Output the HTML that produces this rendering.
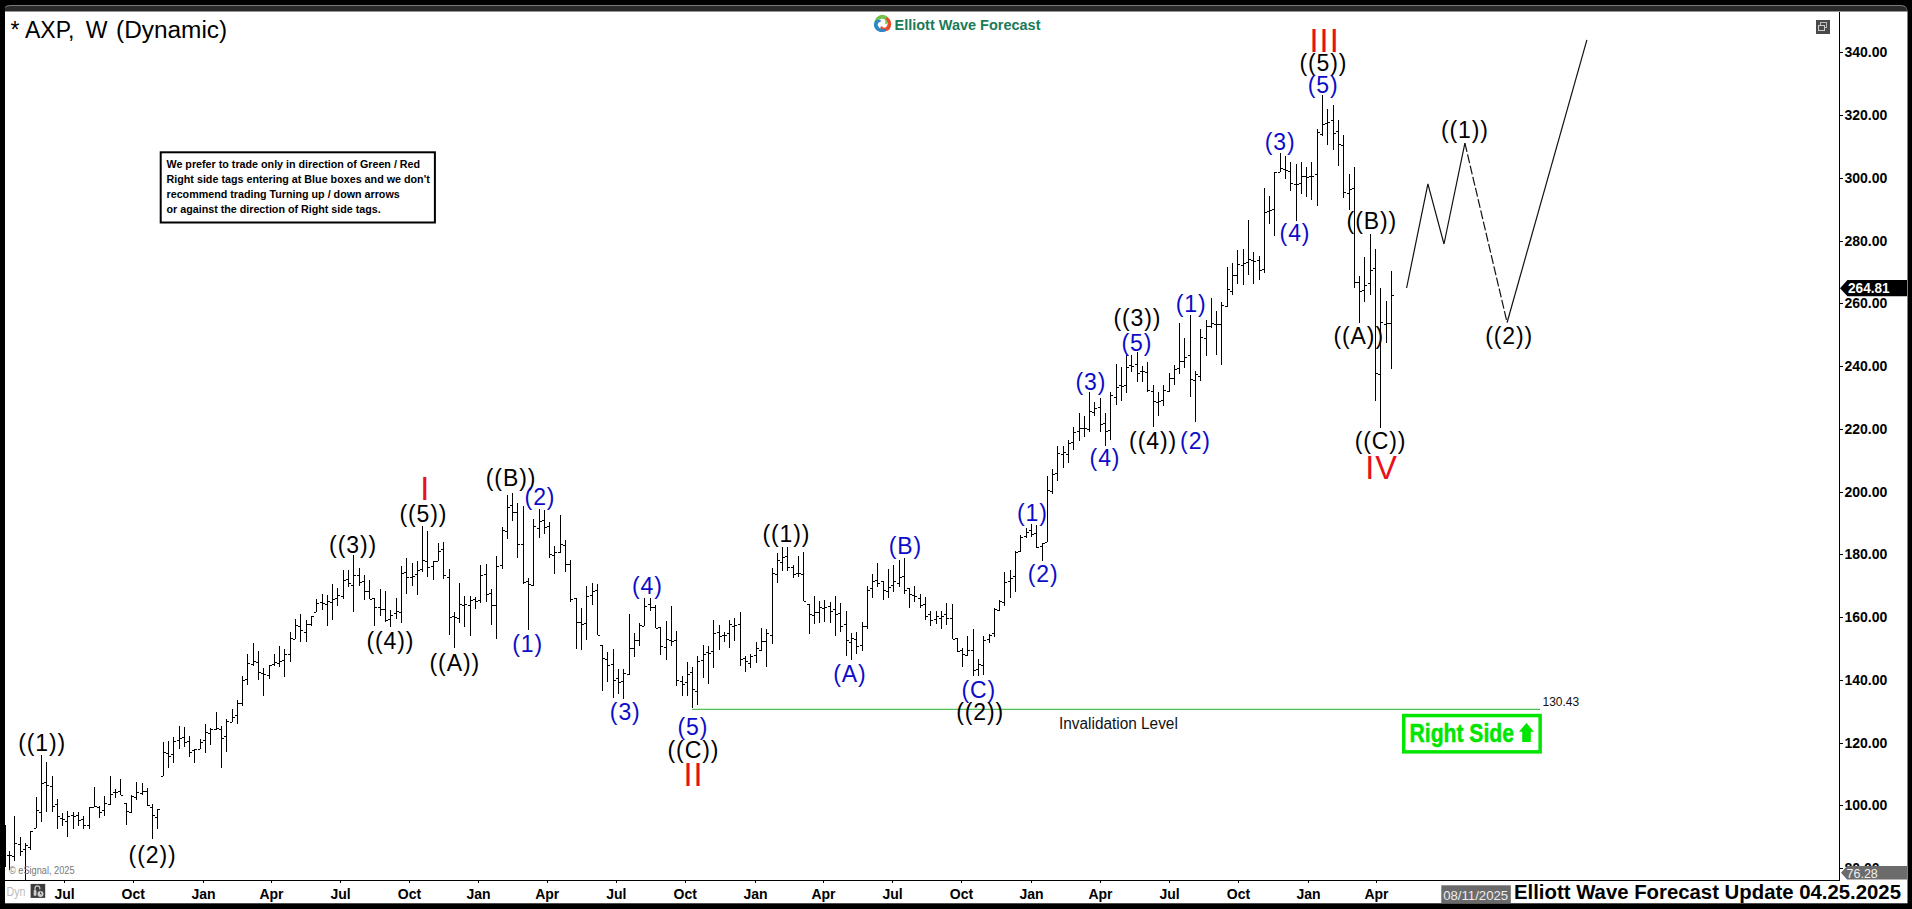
<!DOCTYPE html>
<html><head><meta charset="utf-8"><title>AXP Weekly Elliott Wave</title>
<style>html,body{margin:0;padding:0;background:#000;width:1912px;height:909px;overflow:hidden;position:relative;font-family:"Liberation Sans", sans-serif;}</style>
</head><body>
<svg width="1912" height="909" viewBox="0 0 1912 909" style="position:absolute;left:0;top:0"><rect x="0" y="0" width="1912" height="909" fill="#000"/><path d="M5,12 V7.5 Q5,5 11,5 H1901 Q1907.5,5 1907.5,12 Z" fill="#7a7a7a"/><path d="M5,12 V8.5 Q5,6 11,6 H1901 Q1907,6 1907,12 Z" fill="#2a2a2a"/><rect x="5" y="11.5" width="1902.5" height="891.8" fill="#fff"/><g stroke="#000" stroke-width="1" shape-rendering="crispEdges" fill="none"><path d="M5.5,825V867M9.5,851V870M7.0,855.5H9.0M10.0,855.5H12.0M14.5,816V861M12.0,856.5H14.0M15.0,843.5H17.0M20.5,837V856M18.0,844.5H20.0M21.0,851.5H23.0M25.5,843V880M23.0,849.5H25.0M26.0,845.5H28.0M30.5,831V850M28.0,847.5H30.0M31.0,831.5H33.0M36.5,797V828M34.0,828.5H36.0M37.0,810.5H39.0M41.5,755V822M39.0,812.5H41.0M42.0,783.5H44.0M46.5,762V812M44.0,782.5H46.0M47.0,785.5H49.0M52.5,776V812M50.0,786.5H52.0M53.0,806.5H55.0M57.5,799V829M55.0,804.5H57.0M58.0,816.5H60.0M62.5,813V826M60.0,818.5H62.0M63.0,819.5H65.0M67.5,811V837M65.0,821.5H67.0M68.0,816.5H70.0M73.5,812V829M71.0,815.5H73.0M74.0,816.5H76.0M78.5,812V826M76.0,815.5H78.0M79.0,820.5H81.0M83.5,816V829M81.0,819.5H83.0M84.0,825.5H86.0M89.5,807V829M87.0,825.5H89.0M90.0,807.5H92.0M94.5,787V807M92.0,807.5H94.0M95.0,806.5H97.0M99.5,806V818M97.0,807.5H99.0M100.0,812.5H102.0M104.5,796V816M102.0,810.5H104.0M105.0,803.5H107.0M110.5,776V805M108.0,804.5H110.0M111.0,794.5H113.0M115.5,789V798M113.0,792.5H115.0M116.0,792.5H118.0M120.5,779V795M118.0,791.5H120.0M121.0,795.5H123.0M126.5,803V825M124.0,803.5H126.0M127.0,811.5H129.0M131.5,795V813M129.0,812.5H131.0M132.0,796.5H134.0M136.5,782V800M134.0,797.5H136.0M137.0,792.5H139.0M142.5,783V795M140.0,793.5H142.0M143.0,791.5H145.0M147.5,788V806M145.0,791.5H147.0M148.0,805.5H150.0M152.5,804V839M150.0,807.5H152.0M153.0,815.5H155.0M157.5,809V829M155.0,817.5H157.0M158.0,809.5H160.0M163.5,742V776M161.0,776.5H163.0M164.0,752.5H166.0M168.5,741V768M166.0,753.5H168.0M169.0,756.5H171.0M173.5,737V763M171.0,754.5H173.0M174.0,741.5H176.0M179.5,726V749M177.0,740.5H179.0M180.0,738.5H182.0M184.5,727V747M182.0,737.5H184.0M185.0,742.5H187.0M189.5,736V757M187.0,741.5H189.0M190.0,752.5H192.0M194.5,749V763M192.0,750.5H194.0M195.0,749.5H197.0M200.5,739V749M198.0,749.5H200.0M201.0,742.5H203.0M205.5,724V753M203.0,740.5H205.0M206.0,732.5H208.0M210.5,728V745M208.0,733.5H210.0M211.0,729.5H213.0M216.5,712V730M214.0,729.5H216.0M217.0,728.5H219.0M221.5,726V768M219.0,729.5H221.0M222.0,738.5H224.0M226.5,719V752M224.0,736.5H226.0M227.0,721.5H229.0M232.5,709V722M230.0,722.5H232.0M233.0,717.5H235.0M237.5,700V724M235.0,715.5H237.0M238.0,703.5H240.0M242.5,676V706M240.0,703.5H242.0M243.0,680.5H245.0M247.5,654V685M245.0,679.5H247.0M248.0,663.5H250.0M253.5,643V666M251.0,664.5H253.0M254.0,661.5H256.0M258.5,651V680M256.0,662.5H258.0M259.0,672.5H261.0M263.5,668V696M261.0,673.5H263.0M264.0,674.5H266.0M269.5,665V679M267.0,675.5H269.0M270.0,665.5H272.0M274.5,654V666M272.0,664.5H274.0M275.0,662.5H277.0M279.5,646V667M277.0,663.5H279.0M280.0,661.5H282.0M284.5,649V677M282.0,660.5H284.0M285.0,654.5H287.0M290.5,632V662M288.0,654.5H290.0M291.0,638.5H293.0M295.5,619V639M293.0,639.5H295.0M296.0,625.5H298.0M300.5,614V642M298.0,626.5H300.0M301.0,630.5H303.0M306.5,620V642M304.0,632.5H306.0M307.0,624.5H309.0M311.5,616V626M309.0,624.5H311.0M312.0,616.5H314.0M316.5,599V612M314.0,612.5H316.0M317.0,603.5H319.0M322.5,594V610M320.0,602.5H322.0M323.0,603.5H325.0M327.5,595V626M325.0,604.5H327.0M328.0,601.5H330.0M332.5,584V620M330.0,602.5H332.0M333.0,599.5H335.0M337.5,588V606M335.0,598.5H337.0M338.0,595.5H340.0M343.5,570V599M341.0,596.5H343.0M344.0,580.5H346.0M348.5,570V587M346.0,579.5H348.0M349.0,583.5H351.0M353.5,555V612M351.0,585.5H353.0M354.0,575.5H356.0M359.5,568V586M357.0,575.5H359.0M360.0,582.5H362.0M364.5,575V600M362.0,581.5H364.0M365.0,591.5H367.0M369.5,580V599M367.0,591.5H369.0M370.0,599.5H372.0M374.5,598V626M372.0,598.5H374.0M375.0,607.5H377.0M380.5,589V616M378.0,607.5H380.0M381.0,609.5H383.0M385.5,591V622M383.0,609.5H385.0M386.0,620.5H388.0M390.5,610V627M388.0,619.5H390.0M391.0,615.5H393.0M396.5,598V619M394.0,613.5H396.0M397.0,611.5H399.0M401.5,566V623M399.0,612.5H401.0M402.0,573.5H404.0M406.5,558V594M404.0,572.5H406.0M407.0,577.5H409.0M412.5,563V586M410.0,577.5H412.0M413.0,576.5H415.0M417.5,561V595M415.0,574.5H417.0M418.0,570.5H420.0M422.5,526V572M420.0,569.5H422.0M423.0,560.5H425.0M427.5,531V577M425.0,561.5H427.0M428.0,567.5H430.0M433.5,561V580M431.0,566.5H433.0M434.0,561.5H436.0M438.5,543V561M436.0,561.5H438.0M439.0,551.5H441.0M443.5,542V579M441.0,549.5H443.0M444.0,575.5H446.0M449.5,569V635M447.0,577.5H449.0M450.0,617.5H452.0M454.5,612V648M452.0,616.5H454.0M455.0,617.5H457.0M459.5,583V623M457.0,618.5H459.0M460.0,604.5H462.0M464.5,596V627M462.0,605.5H464.0M465.0,604.5H467.0M470.5,596V636M468.0,605.5H470.0M471.0,600.5H473.0M475.5,597V609M473.0,599.5H475.0M476.0,601.5H478.0M480.5,565V603M478.0,600.5H480.0M481.0,575.5H483.0M486.5,564V602M484.0,574.5H486.0M487.0,594.5H489.0M491.5,589V625M489.0,593.5H491.0M492.0,605.5H494.0M496.5,556V639M494.0,605.5H496.0M497.0,566.5H499.0M502.5,527V569M500.0,565.5H502.0M503.0,530.5H505.0M507.5,495V539M505.0,531.5H507.0M508.0,507.5H510.0M512.5,493V521M510.0,505.5H512.0M513.0,512.5H515.0M517.5,503V558M515.0,512.5H517.0M518.0,544.5H520.0M523.5,506V584M521.0,544.5H523.0M524.0,582.5H526.0M528.5,578V630M526.0,581.5H528.0M529.0,584.5H531.0M533.5,519V586M531.0,585.5H533.0M534.0,526.5H536.0M539.5,509V538M537.0,528.5H539.0M540.0,521.5H542.0M544.5,510V534M542.0,520.5H544.0M545.0,527.5H547.0M549.5,522V558M547.0,526.5H549.0M550.0,554.5H552.0M554.5,546V574M552.0,555.5H554.0M555.0,552.5H557.0M560.5,515V553M558.0,552.5H560.0M561.0,544.5H563.0M565.5,540V572M563.0,545.5H565.0M566.0,564.5H568.0M570.5,560V602M568.0,564.5H570.0M571.0,599.5H573.0M576.5,598V649M574.0,598.5H576.0M577.0,622.5H579.0M581.5,608V650M579.0,622.5H581.0M582.0,624.5H584.0M586.5,586V640M584.0,623.5H586.0M587.0,596.5H589.0M592.5,583V605M590.0,595.5H592.0M593.0,591.5H595.0M597.5,584V635M595.0,590.5H597.0M598.0,635.5H600.0M602.5,645V691M600.0,645.5H602.0M603.0,658.5H605.0M607.5,652V682M605.0,659.5H607.0M608.0,665.5H610.0M613.5,649V698M611.0,664.5H613.0M614.0,680.5H616.0M618.5,669V694M616.0,678.5H618.0M619.0,682.5H621.0M623.5,669V699M621.0,681.5H623.0M624.0,673.5H626.0M629.5,614V675M627.0,674.5H629.0M630.0,648.5H632.0M634.5,633V657M632.0,648.5H634.0M635.0,640.5H637.0M639.5,623V646M637.0,640.5H639.0M640.0,625.5H642.0M644.5,598V626M642.0,626.5H644.0M645.0,606.5H647.0M650.5,598V611M648.0,604.5H650.0M651.0,607.5H653.0M655.5,605V628M653.0,607.5H655.0M656.0,628.5H658.0M660.5,627V655M658.0,627.5H660.0M661.0,646.5H663.0M666.5,621V660M664.0,647.5H666.0M667.0,639.5H669.0M671.5,606V646M669.0,640.5H671.0M672.0,641.5H674.0M676.5,631V686M674.0,640.5H676.0M677.0,680.5H679.0M682.5,676V696M680.0,681.5H682.0M683.0,684.5H685.0M687.5,662V696M685.0,682.5H687.0M688.0,674.5H690.0M692.5,667V709M690.0,672.5H692.0M693.0,689.5H695.0M697.5,656V705M695.0,691.5H697.0M698.0,661.5H700.0M703.5,645V678M701.0,660.5H703.0M704.0,654.5H706.0M708.5,646V684M706.0,652.5H708.0M709.0,653.5H711.0M713.5,620V668M711.0,651.5H713.0M714.0,633.5H716.0M719.5,625V650M717.0,632.5H719.0M720.0,636.5H722.0M724.5,632V642M722.0,635.5H724.0M725.0,635.5H727.0M729.5,620V648M727.0,633.5H729.0M730.0,624.5H732.0M734.5,618V641M732.0,626.5H734.0M735.0,625.5H737.0M740.5,612V666M738.0,624.5H740.0M741.0,659.5H743.0M745.5,656V672M743.0,658.5H745.0M746.0,661.5H748.0M750.5,654V668M748.0,663.5H750.0M751.0,656.5H753.0M756.5,642V663M754.0,655.5H756.0M757.0,648.5H759.0M761.5,628V651M759.0,650.5H761.0M762.0,641.5H764.0M766.5,629V667M764.0,641.5H766.0M767.0,633.5H769.0M772.5,568V644M770.0,635.5H772.0M773.0,573.5H775.0M777.5,553V583M775.0,574.5H777.0M778.0,560.5H780.0M782.5,547V571M780.0,562.5H782.0M783.0,557.5H785.0M787.5,547V571M785.0,556.5H787.0M788.0,567.5H790.0M793.5,565V578M791.0,567.5H793.0M794.0,574.5H796.0M798.5,556V577M796.0,573.5H798.0M799.0,573.5H801.0M803.5,552V601M801.0,574.5H803.0M804.0,601.5H806.0M809.5,604V634M807.0,604.5H809.0M810.0,614.5H812.0M814.5,596V624M812.0,615.5H814.0M815.0,612.5H817.0M819.5,601V623M817.0,612.5H819.0M820.0,607.5H822.0M824.5,600V622M822.0,608.5H824.0M825.0,607.5H827.0M830.5,602V623M828.0,606.5H830.0M831.0,611.5H833.0M835.5,596V636M833.0,609.5H835.0M836.0,614.5H838.0M840.5,603V632M838.0,613.5H840.0M841.0,626.5H843.0M846.5,611V656M844.0,624.5H846.0M847.0,640.5H849.0M851.5,633V660M849.0,642.5H851.0M852.0,638.5H854.0M856.5,632V654M854.0,639.5H856.0M857.0,646.5H859.0M862.5,622V651M860.0,645.5H862.0M863.0,626.5H865.0M867.5,586V629M865.0,626.5H867.0M868.0,590.5H870.0M872.5,574V598M870.0,588.5H872.0M873.0,581.5H875.0M877.5,563V587M875.0,580.5H877.0M878.0,583.5H880.0M883.5,581V600M881.0,581.5H883.0M884.0,590.5H886.0M888.5,569V598M886.0,591.5H888.0M889.0,587.5H891.0M893.5,565V592M891.0,585.5H893.0M894.0,581.5H896.0M899.5,560V587M897.0,583.5H899.0M900.0,577.5H902.0M904.5,558V594M902.0,576.5H904.0M905.0,590.5H907.0M909.5,588V608M907.0,588.5H909.0M910.0,594.5H912.0M914.5,586V602M912.0,595.5H914.0M915.0,596.5H917.0M920.5,594V608M918.0,598.5H920.0M921.0,605.5H923.0M925.5,597V620M923.0,604.5H925.0M926.0,616.5H928.0M930.5,611V626M928.0,614.5H930.0M931.0,620.5H933.0M936.5,611V624M934.0,619.5H936.0M937.0,616.5H939.0M941.5,611V629M939.0,618.5H941.0M942.0,616.5H944.0M946.5,603V625M944.0,614.5H946.0M947.0,618.5H949.0M952.5,604V639M950.0,618.5H952.0M953.0,639.5H955.0M957.5,638V652M955.0,638.5H957.0M958.0,651.5H960.0M962.5,648V667M960.0,650.5H962.0M963.0,654.5H965.0M967.5,636V656M965.0,655.5H967.0M968.0,650.5H970.0M973.5,629V676M971.0,650.5H973.0M974.0,670.5H976.0M978.5,659V676M976.0,669.5H978.0M979.0,664.5H981.0M983.5,636V675M981.0,665.5H983.0M984.0,640.5H986.0M989.5,634V643M987.0,639.5H989.0M990.0,635.5H992.0M994.5,608V637M992.0,633.5H994.0M995.0,609.5H997.0M999.5,600V611M997.0,610.5H999.0M1000.0,601.5H1002.0M1004.5,572V606M1002.0,602.5H1004.0M1005.0,582.5H1007.0M1010.5,570V598M1008.0,581.5H1010.0M1011.0,578.5H1013.0M1015.5,551V592M1013.0,576.5H1015.0M1016.0,552.5H1018.0M1020.5,535V552M1018.0,551.5H1020.0M1021.0,537.5H1023.0M1026.5,528V538M1024.0,536.5H1026.0M1027.0,532.5H1029.0M1031.5,524V537M1029.0,530.5H1031.0M1032.0,534.5H1034.0M1036.5,525V548M1034.0,533.5H1036.0M1037.0,547.5H1039.0M1042.5,543V561M1040.0,546.5H1042.0M1043.0,543.5H1045.0M1047.5,476V542M1045.0,542.5H1047.0M1048.0,490.5H1050.0M1052.5,469V494M1050.0,491.5H1052.0M1053.0,474.5H1055.0M1057.5,446V481M1055.0,473.5H1057.0M1058.0,453.5H1060.0M1063.5,446V468M1061.0,454.5H1063.0M1064.0,452.5H1066.0M1068.5,440V463M1066.0,454.5H1068.0M1069.0,443.5H1071.0M1073.5,427V450M1071.0,442.5H1073.0M1074.0,432.5H1076.0M1079.5,413V441M1077.0,431.5H1079.0M1080.0,428.5H1082.0M1084.5,416V437M1082.0,428.5H1084.0M1085.0,428.5H1087.0M1089.5,392V432M1087.0,429.5H1089.0M1090.0,411.5H1092.0M1094.5,402V416M1092.0,412.5H1094.0M1095.0,408.5H1097.0M1100.5,398V432M1098.0,407.5H1100.0M1101.0,424.5H1103.0M1105.5,413V446M1103.0,423.5H1105.0M1106.0,431.5H1108.0M1110.5,392V440M1108.0,430.5H1110.0M1111.0,395.5H1113.0M1116.5,364V405M1114.0,397.5H1116.0M1117.0,387.5H1119.0M1121.5,367V401M1119.0,385.5H1121.0M1122.0,386.5H1124.0M1126.5,355V393M1124.0,385.5H1126.0M1127.0,367.5H1129.0M1131.5,355V372M1129.0,365.5H1131.0M1132.0,366.5H1134.0M1137.5,352V382M1135.0,364.5H1137.0M1138.0,373.5H1140.0M1142.5,366V382M1140.0,371.5H1142.0M1143.0,371.5H1145.0M1147.5,362V392M1145.0,372.5H1147.0M1148.0,390.5H1150.0M1153.5,385V427M1151.0,391.5H1153.0M1154.0,401.5H1156.0M1158.5,392V416M1156.0,402.5H1158.0M1159.0,401.5H1161.0M1163.5,385V406M1161.0,400.5H1163.0M1164.0,390.5H1166.0M1169.5,373V392M1167.0,391.5H1169.0M1170.0,378.5H1172.0M1174.5,365V385M1172.0,378.5H1174.0M1175.0,369.5H1177.0M1179.5,323V374M1177.0,368.5H1179.0M1180.0,361.5H1182.0M1184.5,338V368M1182.0,361.5H1184.0M1185.0,357.5H1187.0M1190.5,315V397M1188.0,355.5H1190.0M1191.0,379.5H1193.0M1195.5,371V422M1193.0,380.5H1195.0M1196.0,374.5H1198.0M1200.5,329V381M1198.0,376.5H1200.0M1201.0,337.5H1203.0M1206.5,320V356M1204.0,338.5H1206.0M1207.0,326.5H1209.0M1211.5,298V328M1209.0,326.5H1211.0M1212.0,323.5H1214.0M1216.5,311V355M1214.0,324.5H1216.0M1217.0,324.5H1219.0M1221.5,302V365M1219.0,324.5H1221.0M1222.0,305.5H1224.0M1227.5,267V307M1225.0,306.5H1227.0M1228.0,289.5H1230.0M1232.5,263V295M1230.0,291.5H1232.0M1233.0,275.5H1235.0M1237.5,250V284M1235.0,275.5H1237.0M1238.0,264.5H1240.0M1243.5,249V285M1241.0,265.5H1243.0M1244.0,263.5H1246.0M1248.5,220V275M1246.0,262.5H1248.0M1249.0,259.5H1251.0M1253.5,252V284M1251.0,260.5H1253.0M1254.0,261.5H1256.0M1259.5,256V280M1257.0,260.5H1259.0M1260.0,270.5H1262.0M1264.5,188V273M1262.0,269.5H1264.0M1265.0,212.5H1267.0M1269.5,196V224M1267.0,211.5H1269.0M1270.0,210.5H1272.0M1274.5,172V236M1272.0,209.5H1274.0M1275.0,172.5H1277.0M1280.5,153V172M1278.0,172.5H1280.0M1281.0,168.5H1283.0M1285.5,156V179M1283.0,169.5H1285.0M1286.0,170.5H1288.0M1290.5,162V191M1288.0,171.5H1290.0M1291.0,183.5H1293.0M1296.5,164V221M1294.0,184.5H1296.0M1297.0,184.5H1299.0M1301.5,162V194M1299.0,183.5H1301.0M1302.0,176.5H1304.0M1306.5,167V197M1304.0,176.5H1306.0M1307.0,177.5H1309.0M1311.5,162V200M1309.0,176.5H1311.0M1312.0,176.5H1314.0M1317.5,129V206M1315.0,174.5H1317.0M1318.0,132.5H1320.0M1322.5,95V136M1320.0,134.5H1322.0M1323.0,124.5H1325.0M1327.5,109V145M1325.0,123.5H1327.0M1328.0,122.5H1330.0M1333.5,105V150M1331.0,120.5H1333.0M1334.0,133.5H1336.0M1338.5,120V166M1336.0,131.5H1338.0M1339.0,144.5H1341.0M1343.5,135V198M1341.0,145.5H1343.0M1344.0,192.5H1346.0M1349.5,174V210M1347.0,193.5H1349.0M1350.0,189.5H1352.0M1354.5,167V288M1352.0,188.5H1354.0M1355.0,282.5H1357.0M1359.5,276V323M1357.0,282.5H1359.0M1360.0,291.5H1362.0M1364.5,257V302M1362.0,290.5H1364.0M1365.0,285.5H1367.0M1370.5,234V295M1368.0,283.5H1370.0M1371.0,270.5H1373.0M1375.5,249V401M1373.0,268.5H1375.0M1376.0,373.5H1378.0M1380.5,288V428M1378.0,374.5H1380.0M1381.0,322.5H1383.0M1386.5,301V343M1384.0,324.5H1386.0M1387.0,323.5H1389.0M1391.5,271V369M1389.0,323.5H1391.0M1392.0,295.5H1394.0"/></g><g shape-rendering="crispEdges"><rect x="1839" y="11.5" width="1" height="869" fill="#000"/><rect x="4.5" y="880" width="1835" height="1" fill="#000"/></g><rect x="1840" y="51.5" width="3" height="1" fill="#000" shape-rendering="crispEdges"/><text x="1844.5" y="57.3" font-family='"Liberation Sans", sans-serif' font-size="14" font-weight="bold" fill="#000">340.00</text><rect x="1840" y="114.5" width="3" height="1" fill="#000" shape-rendering="crispEdges"/><text x="1844.5" y="120.0" font-family='"Liberation Sans", sans-serif' font-size="14" font-weight="bold" fill="#000">320.00</text><rect x="1840" y="177.5" width="3" height="1" fill="#000" shape-rendering="crispEdges"/><text x="1844.5" y="182.8" font-family='"Liberation Sans", sans-serif' font-size="14" font-weight="bold" fill="#000">300.00</text><rect x="1840" y="240.5" width="3" height="1" fill="#000" shape-rendering="crispEdges"/><text x="1844.5" y="245.6" font-family='"Liberation Sans", sans-serif' font-size="14" font-weight="bold" fill="#000">280.00</text><rect x="1840" y="302.5" width="3" height="1" fill="#000" shape-rendering="crispEdges"/><text x="1844.5" y="308.3" font-family='"Liberation Sans", sans-serif' font-size="14" font-weight="bold" fill="#000">260.00</text><rect x="1840" y="365.5" width="3" height="1" fill="#000" shape-rendering="crispEdges"/><text x="1844.5" y="371.1" font-family='"Liberation Sans", sans-serif' font-size="14" font-weight="bold" fill="#000">240.00</text><rect x="1840" y="428.5" width="3" height="1" fill="#000" shape-rendering="crispEdges"/><text x="1844.5" y="433.8" font-family='"Liberation Sans", sans-serif' font-size="14" font-weight="bold" fill="#000">220.00</text><rect x="1840" y="491.5" width="3" height="1" fill="#000" shape-rendering="crispEdges"/><text x="1844.5" y="496.6" font-family='"Liberation Sans", sans-serif' font-size="14" font-weight="bold" fill="#000">200.00</text><rect x="1840" y="553.5" width="3" height="1" fill="#000" shape-rendering="crispEdges"/><text x="1844.5" y="559.3" font-family='"Liberation Sans", sans-serif' font-size="14" font-weight="bold" fill="#000">180.00</text><rect x="1840" y="616.5" width="3" height="1" fill="#000" shape-rendering="crispEdges"/><text x="1844.5" y="622.0" font-family='"Liberation Sans", sans-serif' font-size="14" font-weight="bold" fill="#000">160.00</text><rect x="1840" y="679.5" width="3" height="1" fill="#000" shape-rendering="crispEdges"/><text x="1844.5" y="684.8" font-family='"Liberation Sans", sans-serif' font-size="14" font-weight="bold" fill="#000">140.00</text><rect x="1840" y="742.5" width="3" height="1" fill="#000" shape-rendering="crispEdges"/><text x="1844.5" y="747.5" font-family='"Liberation Sans", sans-serif' font-size="14" font-weight="bold" fill="#000">120.00</text><rect x="1840" y="804.5" width="3" height="1" fill="#000" shape-rendering="crispEdges"/><text x="1844.5" y="810.3" font-family='"Liberation Sans", sans-serif' font-size="14" font-weight="bold" fill="#000">100.00</text><rect x="1840" y="867.5" width="3" height="1" fill="#000" shape-rendering="crispEdges"/><text x="1844.5" y="873.0" font-family='"Liberation Sans", sans-serif' font-size="14" font-weight="bold" fill="#000">80.00</text><rect x="64" y="881" width="1" height="2" fill="#000" shape-rendering="crispEdges"/><text x="64.5" y="899" text-anchor="middle" font-family='"Liberation Sans", sans-serif' font-size="14" font-weight="bold" fill="#000">Jul</text><rect x="133" y="881" width="1" height="2" fill="#000" shape-rendering="crispEdges"/><text x="133.25" y="899" text-anchor="middle" font-family='"Liberation Sans", sans-serif' font-size="14" font-weight="bold" fill="#000">Oct</text><rect x="203" y="881" width="1" height="2" fill="#000" shape-rendering="crispEdges"/><text x="203.5" y="899" text-anchor="middle" font-family='"Liberation Sans", sans-serif' font-size="14" font-weight="bold" fill="#000">Jan</text><rect x="271" y="881" width="1" height="2" fill="#000" shape-rendering="crispEdges"/><text x="271.5" y="899" text-anchor="middle" font-family='"Liberation Sans", sans-serif' font-size="14" font-weight="bold" fill="#000">Apr</text><rect x="340" y="881" width="1" height="2" fill="#000" shape-rendering="crispEdges"/><text x="340.5" y="899" text-anchor="middle" font-family='"Liberation Sans", sans-serif' font-size="14" font-weight="bold" fill="#000">Jul</text><rect x="409" y="881" width="1" height="2" fill="#000" shape-rendering="crispEdges"/><text x="409.5" y="899" text-anchor="middle" font-family='"Liberation Sans", sans-serif' font-size="14" font-weight="bold" fill="#000">Oct</text><rect x="478" y="881" width="1" height="2" fill="#000" shape-rendering="crispEdges"/><text x="478.5" y="899" text-anchor="middle" font-family='"Liberation Sans", sans-serif' font-size="14" font-weight="bold" fill="#000">Jan</text><rect x="547" y="881" width="1" height="2" fill="#000" shape-rendering="crispEdges"/><text x="547.25" y="899" text-anchor="middle" font-family='"Liberation Sans", sans-serif' font-size="14" font-weight="bold" fill="#000">Apr</text><rect x="616" y="881" width="1" height="2" fill="#000" shape-rendering="crispEdges"/><text x="616.25" y="899" text-anchor="middle" font-family='"Liberation Sans", sans-serif' font-size="14" font-weight="bold" fill="#000">Jul</text><rect x="685" y="881" width="1" height="2" fill="#000" shape-rendering="crispEdges"/><text x="685.25" y="899" text-anchor="middle" font-family='"Liberation Sans", sans-serif' font-size="14" font-weight="bold" fill="#000">Oct</text><rect x="755" y="881" width="1" height="2" fill="#000" shape-rendering="crispEdges"/><text x="755.5" y="899" text-anchor="middle" font-family='"Liberation Sans", sans-serif' font-size="14" font-weight="bold" fill="#000">Jan</text><rect x="823" y="881" width="1" height="2" fill="#000" shape-rendering="crispEdges"/><text x="823.5" y="899" text-anchor="middle" font-family='"Liberation Sans", sans-serif' font-size="14" font-weight="bold" fill="#000">Apr</text><rect x="892" y="881" width="1" height="2" fill="#000" shape-rendering="crispEdges"/><text x="892.5" y="899" text-anchor="middle" font-family='"Liberation Sans", sans-serif' font-size="14" font-weight="bold" fill="#000">Jul</text><rect x="961" y="881" width="1" height="2" fill="#000" shape-rendering="crispEdges"/><text x="961.5" y="899" text-anchor="middle" font-family='"Liberation Sans", sans-serif' font-size="14" font-weight="bold" fill="#000">Oct</text><rect x="1031" y="881" width="1" height="2" fill="#000" shape-rendering="crispEdges"/><text x="1031.5" y="899" text-anchor="middle" font-family='"Liberation Sans", sans-serif' font-size="14" font-weight="bold" fill="#000">Jan</text><rect x="1100" y="881" width="1" height="2" fill="#000" shape-rendering="crispEdges"/><text x="1100.5" y="899" text-anchor="middle" font-family='"Liberation Sans", sans-serif' font-size="14" font-weight="bold" fill="#000">Apr</text><rect x="1169" y="881" width="1" height="2" fill="#000" shape-rendering="crispEdges"/><text x="1169.5" y="899" text-anchor="middle" font-family='"Liberation Sans", sans-serif' font-size="14" font-weight="bold" fill="#000">Jul</text><rect x="1238" y="881" width="1" height="2" fill="#000" shape-rendering="crispEdges"/><text x="1238.5" y="899" text-anchor="middle" font-family='"Liberation Sans", sans-serif' font-size="14" font-weight="bold" fill="#000">Oct</text><rect x="1308" y="881" width="1" height="2" fill="#000" shape-rendering="crispEdges"/><text x="1308.5" y="899" text-anchor="middle" font-family='"Liberation Sans", sans-serif' font-size="14" font-weight="bold" fill="#000">Jan</text><rect x="1376" y="881" width="1" height="2" fill="#000" shape-rendering="crispEdges"/><text x="1376.5" y="899" text-anchor="middle" font-family='"Liberation Sans", sans-serif' font-size="14" font-weight="bold" fill="#000">Apr</text><path d="M1840,288.3 L1847.5,280 H1907 V296.3 H1847.5 Z" fill="#000"/><text x="1848" y="292.6" font-family='"Liberation Sans", sans-serif' font-size="14" font-weight="bold" fill="#fff" textLength="41.6" lengthAdjust="spacingAndGlyphs">264.81</text><path d="M1841,872.8 L1847,866 H1907 V879.5 H1847 Z" fill="#6b6b6b"/><text x="1846.5" y="878" font-family='"Liberation Sans", sans-serif' font-size="12.5" fill="#f0f0f0">76.28</text><rect x="692" y="708" width="848" height="1" fill="#cdf3cd" shape-rendering="crispEdges"/><rect x="692" y="709" width="848" height="1" fill="#5ab95a" shape-rendering="crispEdges"/><text x="1542.5" y="705.8" font-family='"Liberation Sans", sans-serif' font-size="12" fill="#111">130.43</text><text x="1059" y="728.9" font-family='"Liberation Sans", sans-serif' font-size="16" fill="#111" textLength="118.8" lengthAdjust="spacingAndGlyphs">Invalidation Level</text><rect x="1403.75" y="715.55" width="136.4" height="36.3" fill="none" stroke="#00e600" stroke-width="3.5"/><text x="1409.5" y="741.6" font-family='"Liberation Sans", sans-serif' font-size="25" font-weight="bold" fill="#00e600" stroke="#00e600" stroke-width="0.5" textLength="104.5" lengthAdjust="spacingAndGlyphs">Right Side</text><path d="M1526.5,723 L1534,731.8 H1530.8 V742 H1522.2 V731.8 H1519 Z" fill="#00e600"/><g stroke="#111" stroke-width="1.2" fill="none"><path d="M1406.6,288 L1427.9,183.9 L1444,244 L1464.9,143.2"/><path d="M1464.9,143.2 L1507.1,322.5" stroke-dasharray="9,2.5"/><path d="M1507.1,322.5 L1586.9,39.8"/></g><text x="42.20" y="751.00" text-anchor="middle" font-family='"Liberation Sans", sans-serif' font-size="23" letter-spacing="0.9" fill="#000">((1))</text><text x="152.55" y="863.10" text-anchor="middle" font-family='"Liberation Sans", sans-serif' font-size="23" letter-spacing="0.9" fill="#000">((2))</text><text x="353.05" y="553.20" text-anchor="middle" font-family='"Liberation Sans", sans-serif' font-size="23" letter-spacing="0.9" fill="#000">((3))</text><text x="390.45" y="649.30" text-anchor="middle" font-family='"Liberation Sans", sans-serif' font-size="23" letter-spacing="0.9" fill="#000">((4))</text><text x="423.35" y="521.90" text-anchor="middle" font-family='"Liberation Sans", sans-serif' font-size="23" letter-spacing="0.9" fill="#000">((5))</text><text x="454.80" y="670.90" text-anchor="middle" font-family='"Liberation Sans", sans-serif' font-size="23" letter-spacing="0.9" fill="#000">((A))</text><text x="511.05" y="486.00" text-anchor="middle" font-family='"Liberation Sans", sans-serif' font-size="23" letter-spacing="0.9" fill="#000">((B))</text><text x="540.00" y="505.05" text-anchor="middle" font-family='"Liberation Sans", sans-serif' font-size="23" letter-spacing="0.9" fill="#0c0cc8">(2)</text><text x="527.70" y="651.75" text-anchor="middle" font-family='"Liberation Sans", sans-serif' font-size="23" letter-spacing="0.9" fill="#0c0cc8">(1)</text><text x="647.35" y="593.95" text-anchor="middle" font-family='"Liberation Sans", sans-serif' font-size="23" letter-spacing="0.9" fill="#0c0cc8">(4)</text><text x="625.25" y="719.85" text-anchor="middle" font-family='"Liberation Sans", sans-serif' font-size="23" letter-spacing="0.9" fill="#0c0cc8">(3)</text><text x="692.95" y="735.30" text-anchor="middle" font-family='"Liberation Sans", sans-serif' font-size="23" letter-spacing="0.9" fill="#0c0cc8">(5)</text><text x="693.45" y="757.80" text-anchor="middle" font-family='"Liberation Sans", sans-serif' font-size="23" letter-spacing="0.9" fill="#000">((C))</text><text x="786.45" y="542.20" text-anchor="middle" font-family='"Liberation Sans", sans-serif' font-size="23" letter-spacing="0.9" fill="#000">((1))</text><text x="849.95" y="681.65" text-anchor="middle" font-family='"Liberation Sans", sans-serif' font-size="23" letter-spacing="0.9" fill="#0c0cc8">(A)</text><text x="905.35" y="553.90" text-anchor="middle" font-family='"Liberation Sans", sans-serif' font-size="23" letter-spacing="0.9" fill="#0c0cc8">(B)</text><text x="978.85" y="697.70" text-anchor="middle" font-family='"Liberation Sans", sans-serif' font-size="23" letter-spacing="0.9" fill="#0c0cc8">(C)</text><text x="980.20" y="720.10" text-anchor="middle" font-family='"Liberation Sans", sans-serif' font-size="23" letter-spacing="0.9" fill="#000">((2))</text><text x="1032.35" y="520.50" text-anchor="middle" font-family='"Liberation Sans", sans-serif' font-size="23" letter-spacing="0.9" fill="#0c0cc8">(1)</text><text x="1043.10" y="581.90" text-anchor="middle" font-family='"Liberation Sans", sans-serif' font-size="23" letter-spacing="0.9" fill="#0c0cc8">(2)</text><text x="1090.80" y="389.70" text-anchor="middle" font-family='"Liberation Sans", sans-serif' font-size="23" letter-spacing="0.9" fill="#0c0cc8">(3)</text><text x="1105.00" y="465.95" text-anchor="middle" font-family='"Liberation Sans", sans-serif' font-size="23" letter-spacing="0.9" fill="#0c0cc8">(4)</text><text x="1137.40" y="326.10" text-anchor="middle" font-family='"Liberation Sans", sans-serif' font-size="23" letter-spacing="0.9" fill="#000">((3))</text><text x="1136.85" y="350.80" text-anchor="middle" font-family='"Liberation Sans", sans-serif' font-size="23" letter-spacing="0.9" fill="#0c0cc8">(5)</text><text x="1153.05" y="448.85" text-anchor="middle" font-family='"Liberation Sans", sans-serif' font-size="23" letter-spacing="0.9" fill="#000">((4))</text><text x="1195.50" y="448.85" text-anchor="middle" font-family='"Liberation Sans", sans-serif' font-size="23" letter-spacing="0.9" fill="#0c0cc8">(2)</text><text x="1191.10" y="311.95" text-anchor="middle" font-family='"Liberation Sans", sans-serif' font-size="23" letter-spacing="0.9" fill="#0c0cc8">(1)</text><text x="1280.15" y="150.35" text-anchor="middle" font-family='"Liberation Sans", sans-serif' font-size="23" letter-spacing="0.9" fill="#0c0cc8">(3)</text><text x="1295.00" y="240.65" text-anchor="middle" font-family='"Liberation Sans", sans-serif' font-size="23" letter-spacing="0.9" fill="#0c0cc8">(4)</text><text x="1323.45" y="71.30" text-anchor="middle" font-family='"Liberation Sans", sans-serif' font-size="23" letter-spacing="0.9" fill="#000">((5))</text><text x="1323.10" y="93.05" text-anchor="middle" font-family='"Liberation Sans", sans-serif' font-size="23" letter-spacing="0.9" fill="#0c0cc8">(5)</text><text x="1371.85" y="228.95" text-anchor="middle" font-family='"Liberation Sans", sans-serif' font-size="23" letter-spacing="0.9" fill="#000">((B))</text><text x="1358.75" y="344.45" text-anchor="middle" font-family='"Liberation Sans", sans-serif' font-size="23" letter-spacing="0.9" fill="#000">((A))</text><text x="1380.50" y="449.15" text-anchor="middle" font-family='"Liberation Sans", sans-serif' font-size="23" letter-spacing="0.9" fill="#000">((C))</text><text x="1464.95" y="138.25" text-anchor="middle" font-family='"Liberation Sans", sans-serif' font-size="23" letter-spacing="0.9" fill="#000">((1))</text><text x="1509.15" y="344.45" text-anchor="middle" font-family='"Liberation Sans", sans-serif' font-size="23" letter-spacing="0.9" fill="#000">((2))</text><text x="425.3" y="500.3" text-anchor="middle" font-family='"Liberation Sans", sans-serif' font-size="32.5" letter-spacing="1.1" fill="#e8101a">I</text><text x="693.6" y="786.3" text-anchor="middle" font-family='"Liberation Sans", sans-serif' font-size="32.5" letter-spacing="1.1" fill="#e8101a">II</text><text x="1324.6" y="51.7" text-anchor="middle" font-family='"Liberation Sans", sans-serif' font-size="32.5" letter-spacing="1.1" fill="#e8101a">III</text><text x="1381.6" y="478.9" text-anchor="middle" font-family='"Liberation Sans", sans-serif' font-size="32.5" letter-spacing="1.1" fill="#e8101a">IV</text><text x="10.6" y="37.8" font-family='"Liberation Sans", sans-serif' font-size="23" fill="#000">*</text><text x="25.0" y="37.8" font-family='"Liberation Sans", sans-serif' font-size="23" fill="#000">AXP,</text><text x="85.8" y="37.8" font-family='"Liberation Sans", sans-serif' font-size="23" fill="#000">W</text><text x="116.0" y="37.8" font-family='"Liberation Sans", sans-serif' font-size="23" fill="#000" textLength="111.2" lengthAdjust="spacingAndGlyphs">(Dynamic)</text><path d="M874.43,22.99 L874.48,22.16 L874.61,21.34 L874.84,20.53 L875.15,19.74 L875.54,18.98 L876.02,18.26 L876.56,17.59 L877.19,16.98 L877.87,16.43 L878.61,15.96 L879.40,15.57 L880.24,15.26 L881.10,15.04 L881.99,14.91 L882.89,14.87 L883.78,14.94 L884.66,15.14 L885.49,15.48 L886.25,15.95 L886.93,16.52 L887.51,17.17 L887.99,17.89 L888.35,18.64 L888.60,19.43 L888.73,20.22 L888.74,21.01 L887.97,21.97 L887.75,22.62 L887.44,23.20 L887.05,23.70 L884.55,23.70 L884.96,23.45 L885.31,23.12 L885.59,22.72 L885.16,22.55 L885.32,22.12 L885.40,21.67 L885.40,21.19 L885.31,20.72 L885.14,20.27 L884.88,19.84 L884.55,19.46 L884.16,19.15 L883.71,18.92 L883.22,18.80 L882.72,18.74 L882.21,18.72 L881.70,18.74 L881.19,18.81 L880.69,18.94 L880.19,19.11 L879.71,19.33 L879.26,19.60 L878.82,19.91 L878.41,20.27 L878.04,20.67 L877.70,21.11 L877.41,21.59 L877.17,22.10 L876.97,22.64 L876.83,23.20 Z" fill="#74c24c"/><path d="M887.15,17.06 L887.84,17.52 L888.49,18.05 L889.08,18.65 L889.61,19.32 L890.07,20.04 L890.45,20.80 L890.76,21.62 L890.98,22.46 L891.11,23.32 L891.15,24.20 L891.09,25.09 L890.94,25.96 L890.70,26.82 L890.37,27.65 L889.95,28.45 L889.44,29.19 L888.84,29.85 L888.12,30.40 L887.33,30.82 L886.50,31.12 L885.65,31.30 L884.79,31.36 L883.95,31.29 L883.15,31.12 L882.40,30.83 L881.71,30.45 L881.26,29.30 L880.81,28.79 L880.47,28.23 L880.23,27.64 L881.47,25.48 L881.49,25.95 L881.60,26.42 L881.80,26.87 L882.16,26.58 L882.45,26.93 L882.81,27.23 L883.22,27.46 L883.67,27.62 L884.16,27.70 L884.65,27.69 L885.14,27.60 L885.61,27.41 L886.04,27.14 L886.38,26.77 L886.69,26.37 L886.96,25.94 L887.20,25.49 L887.39,25.01 L887.53,24.51 L887.63,24.00 L887.68,23.47 L887.68,22.94 L887.62,22.41 L887.51,21.88 L887.35,21.35 L887.14,20.84 L886.87,20.35 L886.55,19.88 L886.18,19.44 L885.77,19.03 Z" fill="#e84c2c"/><path d="M885.92,31.04 L885.18,31.42 L884.40,31.71 L883.58,31.92 L882.74,32.05 L881.89,32.09 L881.03,32.04 L880.18,31.90 L879.34,31.66 L878.52,31.34 L877.74,30.94 L877.00,30.45 L876.32,29.88 L875.70,29.24 L875.14,28.54 L874.66,27.78 L874.28,26.97 L874.00,26.11 L873.89,25.22 L873.92,24.33 L874.07,23.45 L874.34,22.63 L874.72,21.86 L875.20,21.16 L875.75,20.55 L876.38,20.04 L877.05,19.64 L878.27,19.82 L878.93,19.69 L879.59,19.67 L880.23,19.76 L881.47,21.92 L881.05,21.70 L880.59,21.56 L880.11,21.51 L880.18,21.97 L879.72,22.04 L879.29,22.20 L878.88,22.44 L878.52,22.76 L878.21,23.13 L877.97,23.57 L877.80,24.04 L877.73,24.54 L877.76,25.05 L877.90,25.53 L878.10,25.99 L878.33,26.44 L878.61,26.87 L878.92,27.28 L879.28,27.65 L879.68,27.99 L880.11,28.30 L880.57,28.56 L881.06,28.78 L881.57,28.95 L882.11,29.08 L882.66,29.15 L883.22,29.16 L883.78,29.12 L884.35,29.02 L884.91,28.86 Z" fill="#2e88c8"/><text x="894.5" y="29.8" font-family='"Liberation Sans", sans-serif' font-size="14" font-weight="bold" fill="#1a7a58" textLength="146" lengthAdjust="spacingAndGlyphs">Elliott Wave Forecast</text><rect x="160.7" y="152.3" width="274.2" height="70.2" fill="#fff" stroke="#000" stroke-width="2"/><text x="166.5" y="168.2" font-family='"Liberation Sans", sans-serif' font-size="11.5" font-weight="bold" fill="#000" textLength="253.6" lengthAdjust="spacingAndGlyphs">We prefer to trade only in direction of Green / Red</text><text x="166.5" y="183.2" font-family='"Liberation Sans", sans-serif' font-size="11.5" font-weight="bold" fill="#000" textLength="263.3" lengthAdjust="spacingAndGlyphs">Right side tags entering at Blue boxes and we don't</text><text x="166.5" y="198.2" font-family='"Liberation Sans", sans-serif' font-size="11.5" font-weight="bold" fill="#000" textLength="233.2" lengthAdjust="spacingAndGlyphs">recommend trading Turning up / down arrows</text><text x="166.5" y="213.2" font-family='"Liberation Sans", sans-serif' font-size="11.5" font-weight="bold" fill="#000" textLength="214.3" lengthAdjust="spacingAndGlyphs">or against the direction of Right side tags.</text><rect x="1816" y="20" width="14" height="14" fill="#4a4a4a"/><rect x="1820.5" y="22.5" width="6" height="5" fill="none" stroke="#bbb" stroke-width="1"/><rect x="1818.5" y="25.5" width="6" height="5" fill="#4a4a4a" stroke="#ccc" stroke-width="1"/><text x="9" y="874.2" font-family='"Liberation Sans", sans-serif' font-size="10" fill="#777" textLength="65.5" lengthAdjust="spacingAndGlyphs">© eSignal, 2025</text><text x="6.5" y="896" font-family='"Liberation Sans", sans-serif' font-size="12.5" fill="#bdbdbd" textLength="19" lengthAdjust="spacingAndGlyphs">Dyn</text><rect x="30.6" y="883.9" width="14.6" height="14" fill="#3c3c3c"/><path d="M35,890.5 V888.3 A2.4,2.4 0 0 1 39.8,888.3 V889.5" fill="none" stroke="#c8c8c8" stroke-width="1.2"/><rect x="33.7" y="890.2" width="2.7" height="5.5" fill="#cfcfcf"/><circle cx="40.5" cy="893.9" r="3" fill="#cfcfcf"/><path d="M40.5,891.8 V894 H42" fill="none" stroke="#3c3c3c" stroke-width="0.8"/><rect x="1441.3" y="885.3" width="69.5" height="18.1" fill="#6b6b6b"/><text x="1443.2" y="900" font-family='"Liberation Sans", sans-serif' font-size="13" fill="#eee" textLength="65" lengthAdjust="spacingAndGlyphs">08/11/2025</text><text x="1514" y="898.8" font-family='"Liberation Sans", sans-serif' font-size="20.2" font-weight="bold" fill="#000" textLength="387" lengthAdjust="spacingAndGlyphs">Elliott Wave Forecast Update 04.25.2025</text></svg>
</body></html>
